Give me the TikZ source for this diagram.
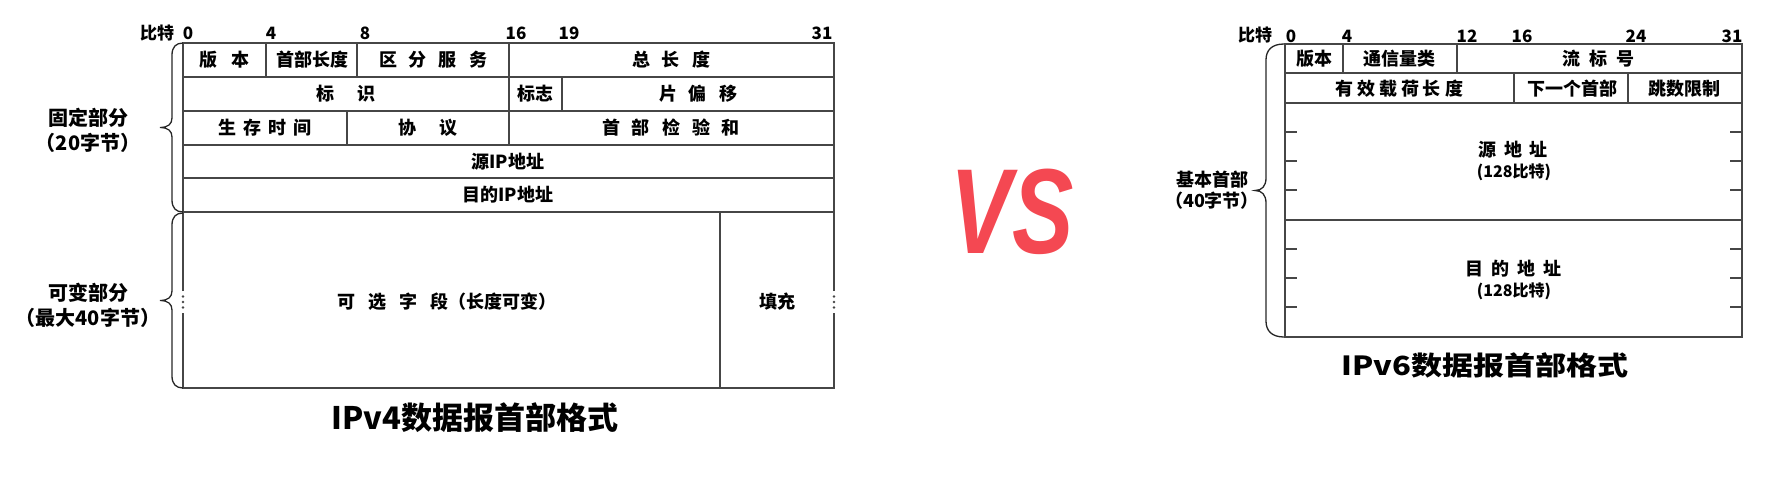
\documentclass[tikz,border=0pt]{standalone}
\usepackage{fontspec}
\setmainfont{Noto Sans CJK SC}
\newfontfamily\vsfont{Liberation Sans}
\definecolor{vsred}{RGB}{244,72,82}
\definecolor{ln}{RGB}{70,70,70}
\newcommand{\G}[1]{\hspace{#1pt}}
\begin{document}
\begin{tikzpicture}[x=1pt,y=-1pt,
  tbl/.style={draw=ln, line width=1.3pt},
  bracestyle/.style={draw=black!85, line width=1.3pt},
  cell/.style={inner sep=0pt, font=\fontsize{18}{18}\selectfont\bfseries},
  small/.style={inner sep=0pt, font=\fontsize{16}{16}\selectfont\bfseries},
  bitlbl/.style={inner sep=0pt, font=\fontsize{17}{17}\selectfont\bfseries},
  side/.style={inner sep=0pt, align=center, font=\fontsize{20}{25}\selectfont\bfseries},
  side6/.style={inner sep=0pt, align=center, font=\fontsize{18}{21}\selectfont\bfseries},
  title/.style={inner sep=0pt, font=\fontsize{31}{31}\selectfont\bfseries}]
\useasboundingbox (0,0) rectangle (1781,495);

% ================= IPv4 =================
\node[bitlbl] (b4lbl) at (157,33) {比特};
\node[bitlbl] (b4n0) at (188,33) {0};
\node[bitlbl] (b4n4) at (271,33) {4};
\node[bitlbl] (b4n8) at (365,33) {8};
\node[bitlbl] (b4n16) at (516,33) {16};
\node[bitlbl] (b4n19) at (569,33) {19};
\node[bitlbl] (b4n31) at (822,33) {31};

% fixed part
\draw[tbl] (183,43) rectangle (834,212);
\foreach \yy in {77,111,145,178} \draw[tbl] (183,\yy) -- (834,\yy);
\draw[tbl] (266,43) -- (266,77);
\draw[tbl] (357,43) -- (357,77);
\draw[tbl] (509,43) -- (509,145);
\draw[tbl] (562,77) -- (562,111);
\draw[tbl] (347,111) -- (347,145);

% variable part
\draw[tbl] (183,291) -- (183,212);
\draw[tbl] (183,313) -- (183,388) -- (834,388) -- (834,313);
\draw[tbl] (834,291) -- (834,212);
\draw[tbl] (720,212) -- (720,388);
\foreach \yy in {296.5,302,307.5} {
  \fill[ln] (183,\yy) circle (1.3);
  \fill[ln] (834,\yy) circle (1.3);
}

% cell texts
\node[cell] (v4ver) at (224.5,60) {版\G{14}本};
\node[cell] (v4ihl) at (312,60) {首部长度};
\node[cell] (v4ds) at (433,60) {区\G{12}分\G{12}服\G{12}务};
\node[cell] (v4tl) at (671,60) {总\G{12}长\G{12}度};
\node[cell] (v4id) at (346,94) {标\G{23}识};
\node[cell] (v4flag) at (535.5,94) {标志};
\node[cell] (v4frag) at (698,94) {片\G{12}偏\G{12}移};
\node[cell] (v4ttl) at (265,128) {生\G{7}存\G{7}时\G{7}间};
\node[cell] (v4proto) at (428,128) {协\G{23}议};
\node[cell] (v4cks) at (671,128) {首\G{12}部\G{12}检\G{12}验\G{12}和};
\node[cell] (v4src) at (508,161.5) {源IP地址};
\node[cell] (v4dst) at (508,195) {目的IP地址};
\node[cell] (v4opt) at (447,302) {可\G{13}选\G{13}字\G{13}段（长度可变）};
\node[cell] (v4pad) at (777,302) {填充};

% braces
\draw[bracestyle] (183,43) .. controls (176,43) and (172,47) .. (172,55) -- (172,118)
  .. controls (172,124) and (168,127.5) .. (160,127.5)
  .. controls (168,127.5) and (172,131) .. (172,137) -- (172,200)
  .. controls (172,208) and (176,212) .. (183,212);
\draw[bracestyle] (183,213) .. controls (176,213) and (172,217) .. (172,225) -- (172,291)
  .. controls (172,297) and (168,300.5) .. (160,300.5)
  .. controls (168,300.5) and (172,304) .. (172,310) -- (172,376)
  .. controls (172,384) and (176,388) .. (183,388);
\node[side] (v4fixed) at (88,130) {固定部分\\（20字节）};
\node[side] (v4var) at (88,305) {可变部分\\（最大40字节）};

\node[title] (v4title) at (475,418) {IPv4数据报首部格式};

% ================= VS =================
\node[inner sep=0pt, text=vsred] (vs) at (1012,212)
  {\scalebox{0.76}[1]{\vsfont\fontsize{121}{121}\selectfont\bfseries\itshape VS}};

% ================= IPv6 =================
\node[bitlbl] (b6lbl) at (1255,35) {比特};
\node[bitlbl] (b6n0) at (1291,36) {0};
\node[bitlbl] (b6n4) at (1347,36) {4};
\node[bitlbl] (b6n12) at (1467,36) {12};
\node[bitlbl] (b6n16) at (1522,36) {16};
\node[bitlbl] (b6n24) at (1636,36) {24};
\node[bitlbl] (b6n31) at (1732,36) {31};

\draw[tbl] (1285,44) rectangle (1742,337);
\foreach \yy in {73,103,220} \draw[tbl] (1285,\yy) -- (1742,\yy);
\draw[tbl] (1343,44) -- (1343,73);
\draw[tbl] (1457,44) -- (1457,73);
\draw[tbl] (1514,73) -- (1514,103);
\draw[tbl] (1628,73) -- (1628,103);
\foreach \yy in {132,161,190,249,278,307} {
  \draw[tbl] (1285,\yy) -- (1297,\yy);
  \draw[tbl] (1730,\yy) -- (1742,\yy);
}

\node[cell] (v6ver) at (1314,59) {版本};
\node[cell] (v6tc) at (1399,59) {通信量类};
\node[cell] (v6fl) at (1598,59) {流\G{9}标\G{9}号};
\node[cell] (v6pl) at (1399,89) {有\G{4}效\G{4}载\G{4}荷\G{4}长\G{4}度};
\node[cell] (v6nh) at (1572,89) {下一个首部};
\node[cell] (v6hl) at (1684,89) {跳数限制};
\node[cell] (v6src) at (1513,150) {源\G{8}地\G{8}址};
\node[small] (v6srcb) at (1514,172) {(128比特)};
\node[cell] (v6dst) at (1513,269) {目\G{8}的\G{8}地\G{8}址};
\node[small] (v6dstb) at (1514,291) {(128比特)};

\draw[bracestyle] (1284,44) .. controls (1272,44) and (1266,50) .. (1266,60) -- (1266,178)
  .. controls (1266,186) and (1262,190.5) .. (1255,190.5)
  .. controls (1262,190.5) and (1266,195) .. (1266,203) -- (1266,321)
  .. controls (1266,331) and (1272,337) .. (1284,337);
\node[side6] (v6base) at (1212,190) {基本首部\\（40字节）};

\node[title] (v6title) at (1485,365) {\scalebox{1}[0.85]{IPv6数据报首部格式}};
\end{tikzpicture}
\end{document}
